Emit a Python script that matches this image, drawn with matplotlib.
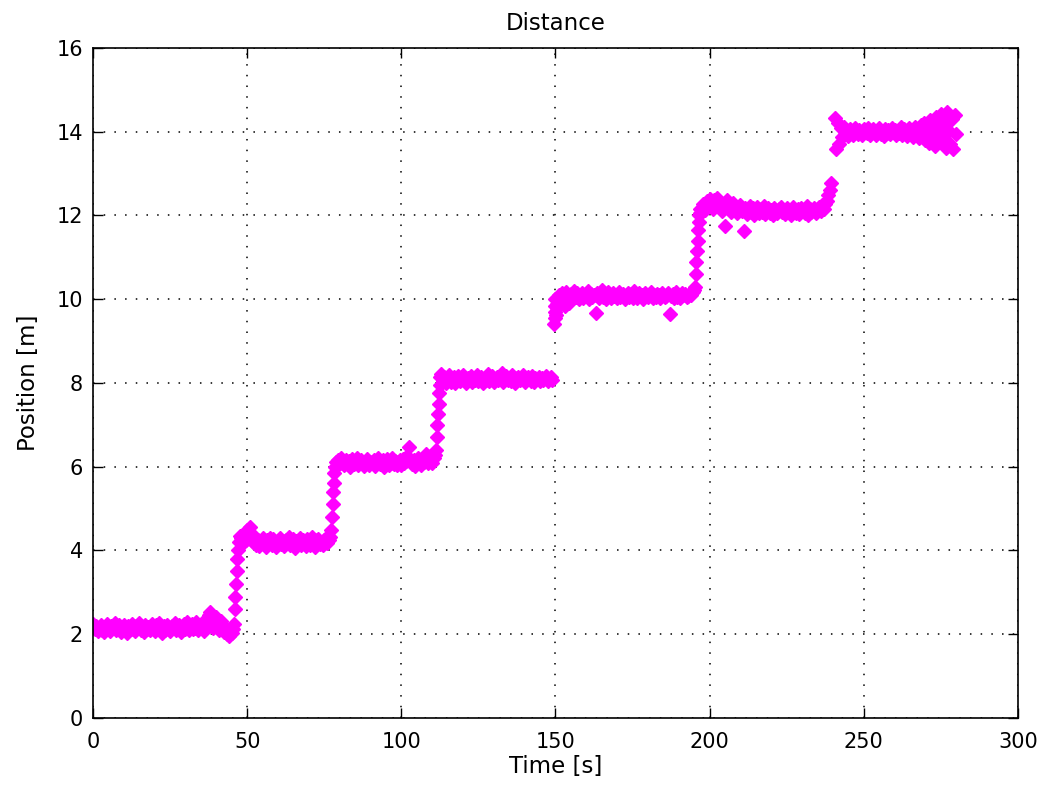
import numpy as np
import matplotlib
matplotlib.use("Agg")
import matplotlib.pyplot as plt

# plateau readings, two per second, starting at the given time
seg1_start = 0.0
seg1_pos = [2.25, 2.12, 2.20, 2.07, 2.15, 2.22, 2.10, 2.05, 2.18, 2.24,
            2.13, 2.08, 2.19, 2.16, 2.26, 2.09, 2.14, 2.21, 2.06, 2.17,
            2.23, 2.11, 2.04, 2.19, 2.15, 2.25, 2.12, 2.08, 2.20, 2.14,
            2.27, 2.10, 2.17, 2.05, 2.22, 2.13, 2.18, 2.09, 2.24, 2.15,
            2.07, 2.21, 2.12, 2.26, 2.16, 2.03, 2.19, 2.11, 2.23, 2.14,
            2.08, 2.20, 2.17, 2.28, 2.10, 2.15, 2.22, 2.06, 2.18, 2.25,
            2.13, 2.29, 2.09, 2.19, 2.24, 2.12, 2.16, 2.30, 2.11, 2.21,
            2.15, 2.27, 2.08, 2.20, 2.35, 2.46, 2.53, 2.38, 2.14, 2.26,
            2.42, 2.18, 2.10, 2.32, 2.22, 2.06, 2.15, 2.00, 1.95, 2.08,
            2.02, 2.12]

seg2_start = 48.0
seg2_pos = [4.30, 4.18, 4.40, 4.25, 4.48, 4.35, 4.55, 4.28, 4.20, 4.32,
            4.14, 4.26, 4.10, 4.22, 4.29, 4.16, 4.08, 4.24, 4.19, 4.31,
            4.12, 4.27, 4.21, 4.09, 4.18, 4.30, 4.15, 4.23, 4.11, 4.26,
            4.20, 4.33, 4.13, 4.17, 4.28, 4.07, 4.22, 4.16, 4.30, 4.12,
            4.25, 4.19, 4.10, 4.27, 4.21, 4.14, 4.32, 4.18, 4.09, 4.24,
            4.28, 4.15, 4.20, 4.12, 4.26, 4.30, 4.19, 4.25, 4.33]

seg3_start = 79.0
seg3_pos = [6.02, 6.15, 6.08, 6.20, 6.11, 6.04, 6.17, 6.09, 6.13, 6.00,
            6.18, 6.06, 6.12, 6.21, 6.03, 6.10, 6.16, 6.07, 6.01, 6.14,
            6.19, 6.05, 6.11, 6.08, 6.17, 6.02, 6.13, 6.22, 6.06, 6.10,
            6.15, 6.00, 6.12, 6.18, 6.04, 6.09, 6.20, 6.07, 6.14, 6.03,
            6.11, 6.16, 6.05, 6.19, 6.08, 6.13, 6.25, 6.46, 6.12, 6.06,
            6.17, 6.02, 6.14, 6.21, 6.09, 6.05, 6.18, 6.12, 6.30, 6.08,
            6.15, 6.24, 6.10, 6.20, 6.28]

seg4_start = 113.0
seg4_pos = [8.22, 8.05, 8.15, 8.00, 8.12, 8.18, 8.03, 8.10, 8.14, 7.99,
            8.08, 8.17, 8.04, 8.11, 8.20, 8.06, 8.01, 8.13, 8.09, 8.16,
            8.02, 8.12, 8.07, 8.19, 8.04, 8.10, 8.15, 8.00, 8.13, 8.08,
            8.21, 8.05, 8.11, 8.17, 8.03, 8.09, 8.14, 8.06, 8.12, 8.23,
            8.02, 8.10, 8.16, 8.07, 8.13, 8.04, 8.18, 8.09, 8.01, 8.12,
            8.15, 8.06, 8.11, 8.20, 8.03, 8.08, 8.14, 8.10, 8.05, 8.17,
            8.02, 8.12, 8.09, 8.15, 8.04, 8.11, 8.07, 8.13, 8.16, 8.05,
            8.10, 8.14, 8.08]

seg5_start = 150.0
seg5_pos = [10.00, 9.88, 10.10, 9.95, 10.15, 10.05, 9.85, 10.18, 10.08, 9.92,
            10.12, 10.02, 10.20, 10.06, 10.14, 10.00, 10.09, 10.16, 10.04, 10.11,
            10.07, 10.19, 10.01, 10.13, 10.05, 10.10, 9.68, 10.15, 10.03, 10.08,
            10.22, 10.06, 10.12, 10.00, 10.17, 10.09, 10.04, 10.14, 10.07, 10.11,
            10.02, 10.18, 10.05, 10.10, 10.13, 10.01, 10.08, 10.16, 10.06, 10.12,
            10.03, 10.19, 10.09, 10.04, 10.14, 10.07, 10.11, 10.00, 10.15, 10.08,
            10.05, 10.12, 10.17, 10.02, 10.10, 10.06, 10.13, 10.09, 10.03, 10.16,
            10.11, 10.05, 10.08, 10.14, 9.65, 10.07, 10.12, 10.02, 10.18, 10.06,
            10.10, 10.04, 10.15, 10.09, 10.12, 10.05, 10.08, 10.14, 10.11, 10.17,
            10.22]

seg6_start = 197.0
seg6_pos = [12.05, 12.18, 12.28, 12.12, 12.35, 12.22, 12.40, 12.30, 12.15, 12.38,
            12.25, 12.42, 12.20, 12.33, 12.10, 12.28, 11.75, 12.36, 12.18, 12.24,
            12.08, 12.30, 12.14, 12.20, 12.06, 12.16, 12.25, 12.10, 11.62, 12.19,
            12.04, 12.13, 12.22, 12.08, 12.17, 12.02, 12.11, 12.20, 12.06, 12.15,
            12.09, 12.23, 12.03, 12.12, 12.18, 12.07, 12.14, 12.01, 12.19, 12.10,
            12.05, 12.16, 12.21, 12.08, 12.12, 12.03, 12.17, 12.09, 12.14, 12.00,
            12.20, 12.11, 12.06, 12.15, 12.04, 12.18, 12.10, 12.13, 12.07, 12.22,
            12.02, 12.16, 12.09, 12.12, 12.19, 12.05, 12.14, 12.20, 12.10, 12.24,
            12.15, 12.28, 12.35, 12.48, 12.62, 12.78]

seg7_start = 240.5
seg7_pos = [14.32, 13.58, 14.20, 13.70, 14.08, 13.88, 14.12, 13.95, 14.02, 13.90,
            14.06, 13.98, 13.92, 14.09, 14.01, 13.94, 14.05, 13.99, 13.91, 14.07,
            14.03, 13.96, 14.10, 13.93, 14.00, 14.06, 13.97, 13.92, 14.04, 14.08,
            13.95, 14.01, 13.90, 14.07, 13.98, 14.03, 13.94, 14.09, 13.99, 14.05,
            13.92, 14.02, 13.96, 14.11, 13.93, 14.06, 14.00, 13.89, 14.08, 13.97,
            14.04, 13.87, 14.12, 13.95, 14.02, 13.85, 14.15, 13.99, 14.22, 13.80,
            14.05, 13.72, 14.28, 13.92, 14.10, 13.65, 14.35, 14.00, 13.78, 14.42,
            13.88, 14.18, 13.60, 14.48, 14.02, 13.70, 14.30, 13.58, 14.40, 13.95]

# extra readings taken while moving between plateaus
step_time = [45.7, 46.0, 46.2, 46.4, 46.6, 46.8, 47.0, 47.3, 47.6,
             77.3, 77.5, 77.7, 77.9, 78.1, 78.3, 78.5, 78.7,
             111.3, 111.5, 111.7, 111.9, 112.1, 112.3, 112.5, 112.7,
             149.6, 149.7, 149.8, 149.9, 150.2, 150.4, 150.7,
             195.3, 195.5, 195.7, 195.9, 196.1, 196.3, 196.5, 196.7, 196.9]
step_pos = [2.25, 2.60, 2.90, 3.20, 3.50, 3.80, 4.00, 4.20, 4.35,
            4.50, 4.80, 5.10, 5.40, 5.60, 5.85, 6.00, 6.12,
            6.40, 6.70, 7.00, 7.25, 7.50, 7.75, 7.95, 8.15,
            9.42, 9.55, 9.70, 9.85, 9.62, 9.78, 9.90,
            10.30, 10.60, 10.90, 11.15, 11.40, 11.65, 11.85, 12.00, 12.15]

segments = [(seg1_start, seg1_pos), (seg2_start, seg2_pos), (seg3_start, seg3_pos),
            (seg4_start, seg4_pos), (seg5_start, seg5_pos), (seg6_start, seg6_pos),
            (seg7_start, seg7_pos)]

time = np.concatenate([s + 0.5 * np.arange(len(p)) for s, p in segments] + [np.array(step_time)])
pos = np.concatenate([np.array(p) for s, p in segments] + [np.array(step_pos)])

plt.rcParams['font.family'] = ['DejaVu Sans']

fig = plt.figure(figsize=(10.41, 7.89), dpi=100)
ax = fig.add_axes([0.0893, 0.0900, 0.8886, 0.8492])

ax.plot(time, pos, linestyle='none', marker='D', markersize=7,
        color='#ff00ff', markeredgecolor='#ff00ff')

ax.set_xlim(0, 300)
ax.set_ylim(0, 16)
ax.set_xticks(range(0, 301, 50))
ax.set_yticks(range(0, 17, 2))
ax.grid(True, color='black', linestyle=(0, (1, 6)), linewidth=1.1)
ax.tick_params(direction='in', length=7, width=1, labelsize=15, top=True, right=True,
               labeltop=False, labelright=False)
ax.tick_params(axis='x', pad=10)
ax.tick_params(axis='y', pad=7)
for sp in ax.spines.values():
    sp.set_linewidth(1.2)

ax.set_title('Distance', fontsize=16.5, pad=13)
ax.set_xlabel('Time [s]', fontsize=16.5, labelpad=2)
ax.set_ylabel('Position [m]', fontsize=16.5, labelpad=12)

fig.savefig('out.png', dpi=100)
